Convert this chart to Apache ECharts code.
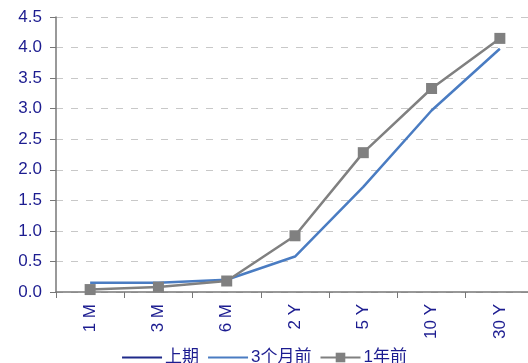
<!DOCTYPE html>
<html>
<head>
<meta charset="utf-8">
<script src="https://cdn.jsdelivr.net/npm/echarts@6/dist/echarts.min.js"></script>
<style>
html,body{margin:0;padding:0;background:#fff;}
#chart{width:528px;height:363px;}
</style>
</head>
<body>
<div id="chart"></div>
<script>
// Tenors on the curve
const tenors = ['1 M', '3 M', '6 M', '2 Y', '5 Y', '10 Y', '30 Y'];
// Yields (%) per snapshot
const lastPeriod = [];
const threeMonthsAgo = [0.15, 0.15, 0.20, 0.58, 1.72, 2.97, 3.98];
const oneYearAgo = [0.04, 0.08, 0.18, 0.92, 2.28, 3.33, 4.15];
const seriesNames = ['上期', '3个月前', '1年前'];

const navy = '#1c1c90';
const font = '"Liberation Sans", Arial, "Noto Sans CJK SC", sans-serif';

const chart = echarts.init(document.getElementById('chart'));
chart.setOption({
  animation: false,
  textStyle: { fontFamily: font },
  grid: {
    left: 56, width: 478, top: 17, bottom: 71,
    containLabel: false, outerBoundsMode: 'none'
  },
  legend: {
    bottom: -8,
    left: 'center',
    itemWidth: 40,
    itemHeight: 12,
    itemGap: 8,
    textStyle: { color: navy, fontSize: 17, fontFamily: font, padding: [0, 0, 0, -2] },
    data: [
      { name: seriesNames[0], itemStyle: { opacity: 0 } },
      { name: seriesNames[1], itemStyle: { opacity: 0 } },
      { name: seriesNames[2] }
    ]
  },
  xAxis: {
    type: 'category',
    data: tenors,
    boundaryGap: true,
    axisLine: { lineStyle: { color: '#777', width: 1.5 } },
    axisTick: { show: true, length: 6, lineStyle: { color: '#777' } },
    axisLabel: { rotate: 90, color: navy, fontSize: 17, margin: 12, fontFamily: font }
  },
  yAxis: {
    type: 'value',
    min: 0,
    max: 4.5,
    interval: 0.5,
    axisLine: { show: true, lineStyle: { color: '#777', width: 1.5 } },
    axisTick: { show: true, length: 6, lineStyle: { color: '#777' } },
    axisLabel: {
      color: navy, fontSize: 17, margin: 14, fontFamily: font,
      formatter: v => v.toFixed(1)
    },
    splitLine: { lineStyle: { color: '#c8c8c8', type: [7, 8], width: 1 } }
  },
  series: [
    {
      name: seriesNames[0], type: 'line', data: lastPeriod,
      symbol: 'none', lineStyle: { color: '#1f2a8a', width: 2 },
      itemStyle: { color: '#1f2a8a' }
    },
    {
      name: seriesNames[1], type: 'line', data: threeMonthsAgo,
      symbol: 'none', lineStyle: { color: '#4a7cc2', width: 2.5 },
      itemStyle: { color: '#4a7cc2' }
    },
    {
      name: seriesNames[2], type: 'line', data: oneYearAgo,
      symbol: 'rect', symbolSize: 11,
      lineStyle: { color: '#808080', width: 2.5 },
      itemStyle: { color: '#808080' }
    }
  ]
});
</script>
</body>
</html>
